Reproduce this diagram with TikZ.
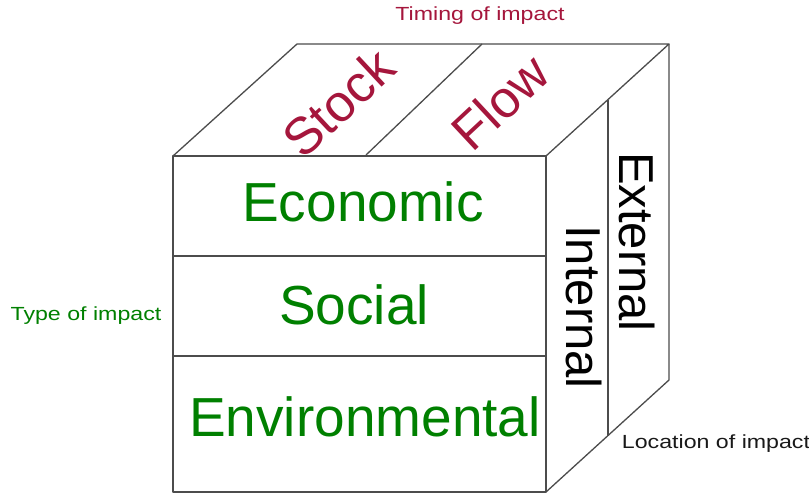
\documentclass[tikz,border=0pt]{standalone}
\usepackage{fontspec}
\setmainfont{Liberation Sans}
\begin{document}
\begin{tikzpicture}[x=1pt,y=-1pt,
  edge/.style={draw=black!70,line width=1.3pt,line join=round},
  big/.style={inner sep=0pt,anchor=center,font=\fontsize{55}{60}\selectfont},
  side/.style={inner sep=0pt,anchor=center,rotate=-90,font=\fontsize{49}{54}\selectfont},
  top/.style={inner sep=0pt,anchor=center,rotate=43,text=tred,font=\fontsize{52}{56}\selectfont},
  axis/.style={inner sep=0pt,anchor=base}]
\definecolor{tgreen}{RGB}{0,128,0}
\definecolor{tred}{RGB}{165,22,60}
\useasboundingbox (0,0) rectangle (809,497);
\fill[white] (0,0) rectangle (809,497);

% cube corners
\coordinate (ftl) at (173,156);
\coordinate (ftr) at (546,156);
\coordinate (fbr) at (546,492);
\coordinate (fbl) at (173,492);
\coordinate (btl) at (297,44);
\coordinate (btr) at (669,44);
\coordinate (bbr) at (669,380);
% row dividers on the front face
\coordinate (r1l) at (173,256);
\coordinate (r1r) at (546,256);
\coordinate (r2l) at (173,356);
\coordinate (r2r) at (546,356);
% divider on the top face
\coordinate (t1) at (366,155);
\coordinate (t2) at (482,44);
% divider on the side face
\coordinate (s1) at (608,100);
\coordinate (s2) at (608,436);

% front face
\draw[edge] (ftl) -- (ftr) -- (fbr) -- (fbl) -- cycle;
\draw[edge] (r1l) -- (r1r);
\draw[edge] (r2l) -- (r2r);
% top face
\draw[edge] (ftl) -- (btl) -- (btr) -- (ftr);
\draw[edge] (t1) -- (t2);
% side face
\draw[edge] (btr) -- (bbr) -- (fbr);
\draw[edge] (s1) -- (s2);

% type of impact
\node[big,text=tgreen] (eco) at (363,202) {Economic};
\node[big,text=tgreen] (soc) at (354,305) {Social};
\node[big,text=tgreen] (env) at (365,417) {Environmental};
% timing of impact
\node[top] (stock) at (338,103) {Stock};
\node[top] (flow) at (500,102) {Flow};
% location of impact
\node[side] (int) at (584,307) {Internal};
\node[side] (ext) at (637,242) {External};

% axis captions
\node[axis,text=tred] (timing) at (480,21)
  {\scalebox{1.22}[1]{\fontsize{19}{22}\selectfont Timing of impact}};
\node[axis,text=tgreen] (type) at (86,320)
  {\scalebox{1.22}[1]{\fontsize{19}{22}\selectfont Type of impact}};
\node[axis,text=black!90] (loc) at (716,448)
  {\scalebox{1.22}[1]{\fontsize{19}{22}\selectfont Location of impact}};
\end{tikzpicture}
\end{document}
